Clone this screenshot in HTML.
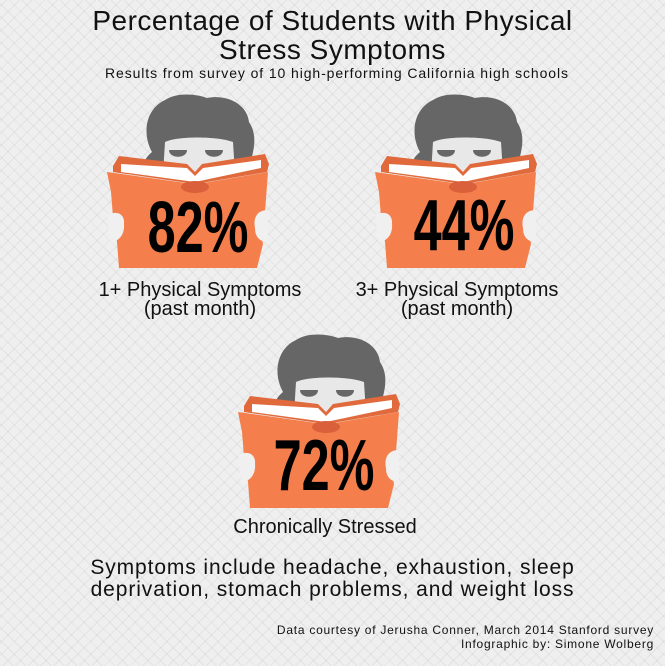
<!DOCTYPE html>
<html><head><meta charset="utf-8">
<style>
html,body{margin:0;padding:0}
body{width:665px;height:666px;position:relative;overflow:hidden;font-family:"Liberation Sans",sans-serif;color:#111;
background-color:#efefef;
background-image:repeating-linear-gradient(45deg,rgba(0,0,0,0.05) 0 1px,transparent 1px 9px),repeating-linear-gradient(-45deg,rgba(0,0,0,0.05) 0 1px,transparent 1px 9px);}
.t{position:absolute;white-space:nowrap;text-align:center}
</style></head><body>
<div class="t" style="left:0;width:665px;top:6px;font-size:28px;line-height:29px;letter-spacing:0.5px">Percentage of Students with Physical<br>Stress Symptoms</div>
<div class="t" style="left:105px;top:65px;font-size:14px;letter-spacing:0.9px;text-align:left">Results from survey of 10 high-performing California high schools</div>

<svg width="665" height="666" style="position:absolute;left:0;top:0">
<defs>
<g id="reader">
  <path d="M45 60 C34 40 40 16 58 8 C70 0 90 2 100 6 C120 2 140 12 142 30 C152 45 146 62 140 82 L40 82 C34 72 38 66 45 60Z" fill="#666"/>
  <path d="M58 50 C70 44 110 44 126 50 L128 82 L56 82Z" fill="#e8e8e8"/>
  <path d="M62 58 L80 58 C80 67 62 67 62 58Z" fill="#666"/>
  <path d="M98 58 L116 58 C116 67 98 67 98 58Z" fill="#666"/>
  <path d="M6 74 L12 64 L80 72 L88 80 L95 72 L158 62 L162 72 L160 80 L88 92 L6 80Z" fill="#e06a3c"/>
  <path d="M14 72 L80 76 L88 84 L96 76 L154 68 L154 76 L88 90 L14 80Z" fill="#fff"/>
  <path d="M0 80 L86 92 L90 92 L161 80 L158 120 L152 130 L156 152 L150 176 L88 176 L12 176 L10 150 L6 125 L4 100Z" fill="#f47f4c"/>
  <path d="M0 123 C10 118 18 122 17 132 C18 142 12 150 3 150 Z" fill="#f0f0f0"/>
  <path d="M161 118 C150 118 146 126 148 136 C148 146 154 150 161 150Z" fill="#f0f0f0"/>
  <ellipse cx="88" cy="95" rx="14" ry="6" fill="#d9603a"/>
</g>
</defs>
<use href="#reader" x="107" y="92"/>
<use href="#reader" x="375" y="92"/>
<use href="#reader" x="238" y="332"/>
<g font-family="'Liberation Sans Narrow','Liberation Sans',sans-serif" font-weight="bold" font-size="72" fill="#000" text-anchor="middle">
<text x="198" y="252" transform="translate(198 0) scale(0.7 1) translate(-198 0)">82%</text>
<text x="464" y="250" transform="translate(464 0) scale(0.7 1) translate(-464 0)">44%</text>
<text x="324" y="490" transform="translate(324 0) scale(0.7 1) translate(-324 0)">72%</text>
</g>
</svg>

<div class="t" style="left:60px;width:280px;top:281px;font-size:20px;line-height:19px">1+ Physical Symptoms<br>(past month)</div>
<div class="t" style="left:317px;width:280px;top:281px;font-size:20px;line-height:19px">3+ Physical Symptoms<br>(past month)</div>
<div class="t" style="left:185px;width:280px;top:516px;font-size:20px">Chronically Stressed</div>
<div class="t" style="left:0;width:665px;top:557px;font-size:21px;line-height:22px;letter-spacing:0.9px">Symptoms include headache, exhaustion, sleep<br>deprivation, stomach problems, and weight loss</div>
<div class="t" style="right:11px;top:623px;font-size:12px;line-height:14px;letter-spacing:0.75px;text-align:right">Data courtesy of Jerusha Conner, March 2014 Stanford survey<br>Infographic by: Simone Wolberg</div>
</body></html>
